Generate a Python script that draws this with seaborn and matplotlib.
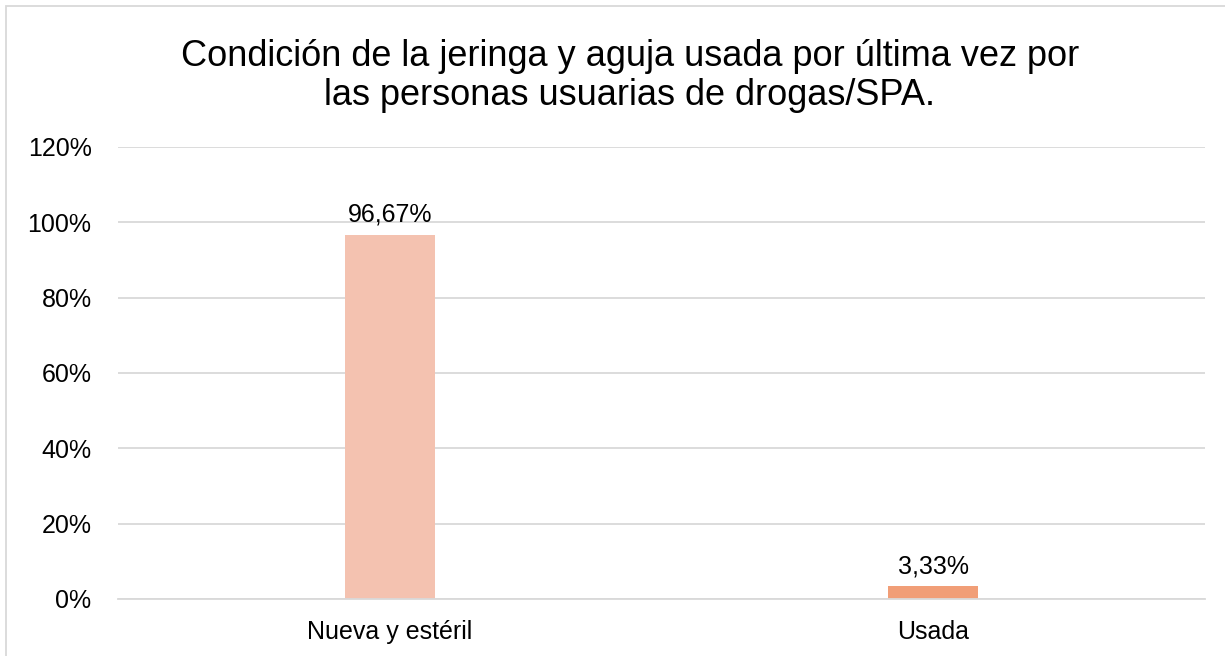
import matplotlib
matplotlib.use("Agg")
import matplotlib.pyplot as plt
import seaborn as sns
import pandas as pd
from matplotlib.patches import Rectangle

categories = ["Nueva y estéril", "Usada"]
values = [96.67, 3.33]
value_labels = ["96,67%", "3,33%"]
colors = ["#F4C2B0", "#F19E77"]
title = "Condición de la jeringa y aguja usada por última vez por\nlas personas usuarias de drogas/SPA."

sns.set_theme(style="white")
plt.rcParams['font.family'] = ['Liberation Sans', 'DejaVu Sans']

fig = plt.figure(figsize=(12.25, 6.56), dpi=100)
ax = fig.add_axes([118/1225, 1 - 599/656, (1205-118)/1225, (599-147)/656])

df = pd.DataFrame({"cat": categories, "val": values})
sns.barplot(data=df, x="cat", y="val", hue="cat", palette=colors, width=0.166,
            ax=ax, legend=False, saturation=1, linewidth=0)

fs = 18
ax.set_ylim(0, 120)
ax.set_xlim(-0.5, 1.5)
ax.set_yticks(range(0, 121, 20))
ax.set_yticklabels([f"{v}%" for v in range(0, 121, 20)], fontsize=fs, color="#000000")
ax.tick_params(axis='x', labelsize=fs, colors="#000000", length=0, pad=15)
ax.tick_params(axis='y', length=0, pad=19)
ax.set_xlabel("")
ax.set_ylabel("")
ax.grid(axis='y', color="#D9D9D9", linewidth=1.3)
ax.set_axisbelow(True)
for s in ["top", "right", "left"]:
    ax.spines[s].set_visible(False)
ax.spines["bottom"].set_color("#D9D9D9")
ax.spines["bottom"].set_linewidth(1.3)

for p, lab in zip(ax.patches, value_labels):
    ax.annotate(lab, (p.get_x() + p.get_width()/2, p.get_height()),
                xytext=(0, 6), textcoords="offset points", ha="center", va="bottom",
                fontsize=fs, color="#000000")

fig.text(630/1225, 1 - 76/656, title, ha="center", va="center", fontsize=26, color="#000000",
         linespacing=1.15)

fig.patches.append(Rectangle((6/1225, -0.1), 1.2, 1 - 6/656 + 0.1, transform=fig.transFigure,
                             fill=False, edgecolor="#D9D9D9", linewidth=1.3))

fig.savefig("out.png", dpi=100)
